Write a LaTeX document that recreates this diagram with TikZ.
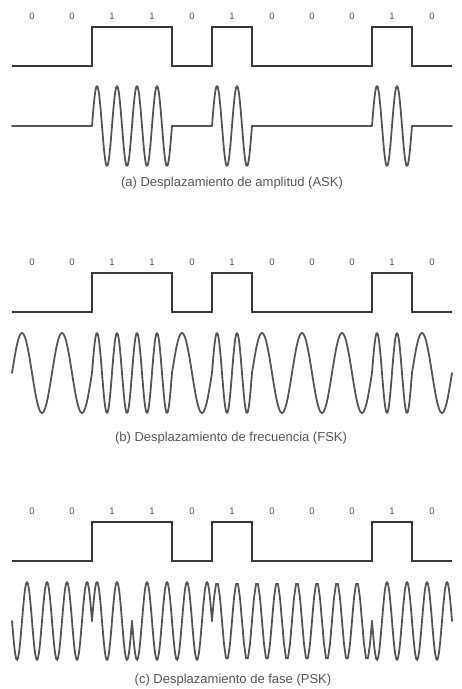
\documentclass[tikz,border=0pt]{standalone}
\usepackage{fontspec}
\setmainfont{Liberation Sans}
\usepackage{xcolor}
\usetikzlibrary{math}
\definecolor{sigcol}{HTML}{383838}
\definecolor{carcol}{HTML}{555555}
\definecolor{txtcol}{HTML}{555555}

\newcommand{\datasquare}{%
\draw[datasig] (12,39) -- (92,39) -- (92,0) -- (172,0) -- (172,39) -- (212,39)
  -- (212,0) -- (252,0) -- (252,39) -- (372,39) -- (372,0) -- (412,0)
  -- (412,39) -- (452,39);
}
\newcommand{\bitlabels}[1]{%
\foreach \b [count=\i from 0] in {0,0,1,1,0,1,0,0,0,1,0}
  \node[bitlbl] (#1\i) at ({32+40*\i},-11) {\b};
}

\begin{document}
\begin{tikzpicture}[x=1pt,y=-1pt,
  datasig/.style={draw=sigcol,line width=1.9pt,line join=miter},
  carrier/.style={draw=carcol,line width=1.8pt,line cap=round,line join=round},
  bitlbl/.style={text=txtcol,font=\fontsize{9.5}{11}\selectfont,inner sep=0pt},
  caption/.style={text=txtcol,font=\fontsize{13}{15}\selectfont,inner sep=0pt}]
\useasboundingbox (0,0) rectangle (462,689);

% (a) ASK
\begin{scope}[shift={(0,27)}]
\bitlabels{askbit}
\datasquare
\foreach \b [count=\i from 0] in {0,0,1,1,0,1,0,0,0,1,0}{
  \pgfmathsetmacro{\xa}{12+40*\i}
  \ifnum\b=1
    \draw[carrier] plot[domain=\xa:\xa+40,samples=61] (\x,{99-40*sin(18*(\x-\xa))});
  \else
    \draw[carrier] (\xa,99) -- ({\xa+40},99);
  \fi
}
\node[caption] (askcap) at (232,156) {(a) Desplazamiento de amplitud (ASK)};
\end{scope}

% (b) FSK
\begin{scope}[shift={(0,273)}]
\bitlabels{fskbit}
\datasquare
\foreach \b [count=\i from 0] in {0,0,1,1,0,1,0,0,0,1,0}{
  \pgfmathsetmacro{\xa}{12+40*\i}
  \pgfmathsetmacro{\fr}{\b+1}
  \draw[carrier] plot[domain=\xa:\xa+40,samples=61] (\x,{100-40*sin(9*\fr*(\x-\xa))});
}
\node[caption] (fskcap) at (231,165) {(b) Desplazamiento de frecuencia (FSK)};
\end{scope}

% (c) PSK
\begin{scope}[shift={(0,522)}]
\bitlabels{pskbit}
\datasquare
\foreach \xa/\xb/\s in {12/92/-1,92/132/1,132/212/-1,212/372/1,372/452/-1}
  \draw[carrier] plot[domain=\xa:\xb,samples=81] (\x,{99-\s*39*sin(18*(\x-12))});
\node[caption] (pskcap) at (233,158) {(c) Desplazamiento de fase (PSK)};
\end{scope}
\end{tikzpicture}
\end{document}
